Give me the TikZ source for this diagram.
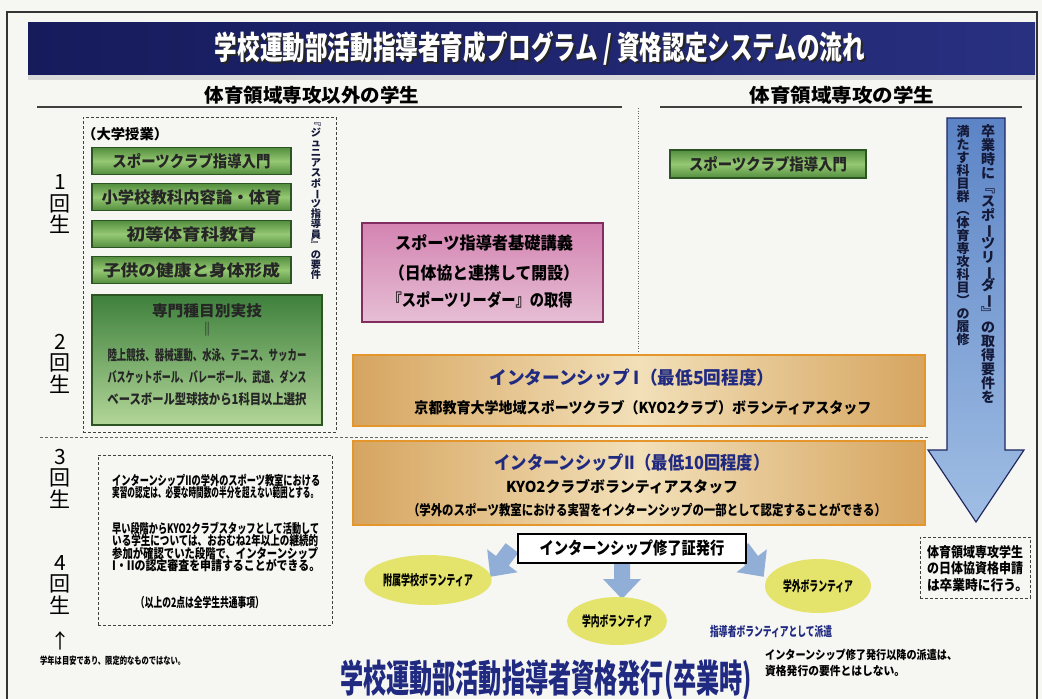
\documentclass[tikz,border=0pt]{standalone}
\usepackage{fontspec}
\usepackage{graphicx}
\newfontfamily\jp{Noto Sans CJK JP}
\usetikzlibrary{shapes.geometric}
\newcommand\fw[2]{\resizebox{#1}{\height}{#2}}
\newcommand\jb[1]{\jp\bfseries\fontsize{#1}{#1}\selectfont}
\newcommand\jr[1]{\jp\fontsize{#1}{#1}\selectfont}
\newcommand\vsk[1]{\lineskiplimit=-100pt\lineskip=0pt\baselineskip=#1pt\relax}
\newcommand\vbar{\rotatebox[origin=c]{-90}{ー}}
\newcommand\barrow[2]{\begin{scope}[shift={#1},rotate=#2]\fill[sarr] (-8,0) -- (8,0) -- (8,16) -- (19,16) -- (0,36) -- (-19,16) -- (-8,16) -- cycle;\end{scope}}
\definecolor{bg}{RGB}{246,246,243}
\definecolor{navy}{RGB}{22,27,92}
\definecolor{navyL}{RGB}{40,48,128}
\definecolor{txtnavy}{RGB}{32,42,128}
\definecolor{grnB}{RGB}{45,85,35}
\definecolor{grnD}{RGB}{82,142,62}
\definecolor{grnL}{RGB}{150,200,115}
\definecolor{grnT}{RGB}{62,128,60}
\definecolor{grnBot}{RGB}{178,214,152}
\definecolor{pinkB}{RGB}{130,45,95}
\definecolor{pinkT}{RGB}{212,132,178}
\definecolor{pinkBot}{RGB}{230,190,212}
\definecolor{orB}{RGB}{228,150,45}
\definecolor{tanD}{RGB}{214,165,96}
\definecolor{tanL}{RGB}{242,224,185}
\definecolor{bluB}{RGB}{30,40,95}
\definecolor{bluT}{RGB}{92,132,198}
\definecolor{bluBot}{RGB}{160,190,228}
\definecolor{bluA}{RGB}{110,150,205}
\definecolor{ylw}{RGB}{228,228,108}
\definecolor{vtxt}{RGB}{20,25,55}
\begin{document}
\begin{tikzpicture}[x=1pt,y=-1pt,
 dbox/.style={draw=black!75, line width=0.8pt, dash pattern=on 3pt off 2pt, inner sep=0pt},
 gbox/.style={draw=grnB, line width=1.2pt, top color=grnD, bottom color=grnD, middle color=grnL, minimum width=199pt, minimum height=27pt, inner sep=0pt, font=\jb{16}, text=black!85},
 bigg/.style={draw=grnB, line width=1.2pt, top color=grnT, bottom color=grnBot, minimum width=230pt, minimum height=130pt, inner sep=0pt},
 pbox/.style={draw=pinkB, line width=1.2pt, top color=pinkT, bottom color=pinkBot, minimum width=241pt, minimum height=99pt, inner sep=0pt},
 ibox/.style={draw=orB, line width=1.5pt, left color=tanD, right color=tanD, middle color=tanL, minimum width=572pt, inner sep=0pt},
 oval/.style={ellipse, fill=ylw, inner sep=0pt, font=\jb{14}},
 lbl/.style={inner sep=0pt},
 gtx/.style={inner sep=0pt, font=\jb{14}, text=black!85},
 ntx/.style={inner sep=0pt, font=\jb{13}, anchor=west},
 yr/.style={inner sep=0pt, font={\jr{21}\vsk{21.5}}, align=center},
 sarr/.style={fill=bluA, opacity=0.75},
]
\path[use as bounding box] (0,0) rectangle (1042,699);
\fill[bg] (0,0) rectangle (1042,699);
\draw[black!80, line width=1.2pt] (7,699) -- (7,12) -- (1037,12) -- (1037,699);
% title
\fill[black!15] (28,74) rectangle (1035,80);
\node[lbl, left color=navy, right color=navyL, minimum width=1007pt, minimum height=52pt] (title) at (531.5,48) {};
\node[lbl, font=\jb{32}, text=black!85] (tshadow) at (542,50) {\fw{650pt}{学校運動部活動指導者育成プログラム\ /\ 資格認定システムの流れ}};
\node[lbl, font=\jb{32}, text=white] (ttext) at (540,48) {\fw{650pt}{学校運動部活動指導者育成プログラム\ /\ 資格認定システムの流れ}};
% sub headers
\node[lbl, font=\jb{19}] (h1) at (312,95) {\fw{215pt}{体育領域専攻以外の学生}};
\draw[black!75, line width=1.5pt] (37,107) -- (622,107);
\node[lbl, font=\jb{19}] (h2) at (842,95) {\fw{185pt}{体育領域専攻の学生}};
\draw[black!75, line width=1.5pt] (660,107) -- (1022,107);
% separators
\draw[black!60, dash pattern=on 1pt off 1.5pt, line width=0.8pt] (638,108) -- (638,352);
\draw[black!60, dash pattern=on 3pt off 2pt, line width=0.8pt] (40,437) -- (930,437);
% year labels
\node[yr] (y1) at (60,204.5) {1\\回\\生};
\node[yr] (y2) at (60,363.5) {2\\回\\生};
\node[yr] (y3) at (60,478.5) {3\\回\\生};
\node[yr] (y4) at (60,585) {4\\回\\生};
\node[lbl, font=\jr{20}] (up) at (60,641) {↑};
\node[lbl, font=\jb{10}, anchor=west] (yrnote) at (40,661) {\fw{145pt}{学年は目安であり、限定的なものではない。}};
% left dashed box with courses
\node[dbox, minimum width=253pt, minimum height=315pt] (lbox) at (209.5,274.5) {};
\node[lbl, font=\jb{14}, anchor=west] (univ) at (82,134) {\fw{86pt}{（大学授業）}};
\node[gbox] (g1) at (191.5,161) {\fw{158pt}{スポーツクラブ指導入門}};
\node[gbox] (g2) at (191.5,197) {\fw{180pt}{小学校教科内容論・体育}};
\node[gbox] (g3) at (191.5,234) {\fw{130pt}{初等体育科教育}};
\node[gbox] (g4) at (191.5,270) {\fw{177pt}{子供の健康と身体形成}};
\node[bigg] (g5) at (207,360) {};
\node[gtx, font=\jb{15}] (g5a) at (207,311) {\fw{110pt}{専門種目別実技}};
\node[gtx] (g5b) at (207,329) {‖};
\node[gtx] (g5c) at (207,355) {\fw{199pt}{陸上競技、器械運動、水泳、テニス、サッカー}};
\node[gtx] (g5d) at (207,377) {\fw{199pt}{バスケットボール、バレーボール、武道、ダンス}};
\node[gtx] (g5e) at (207,399) {\fw{199pt}{ベースボール型球技から1科目以上選択}};
\node[lbl, align=center, text=vtxt, font={\jb{10.2}\vsk{10.2}}] (jr) at (316,201.5) {﹃\\ジ\\ュ\\ニ\\ア\\ス\\ポ\\\vbar\\ツ\\指\\導\\員\\﹄\\の\\要\\件};
% pink box
\node[pbox] (pink) at (482.5,272.5) {};
\node[lbl, font=\jb{17}] (p1) at (484,243) {\fw{178pt}{スポーツ指導者基礎講義}};
\node[lbl, font=\jb{17}] (p2) at (484,273) {\fw{190pt}{（日体協と連携して開設）}};
\node[lbl, font=\jb{17}] (p3) at (480,300) {\fw{185pt}{『スポーツリーダー』の取得}};
% internship I
\node[ibox, minimum height=71pt] (i1) at (639,390.5) {};
\node[lbl, font=\jb{18}, text=txtnavy] (i1t) at (632,378) {\fw{285pt}{インターンシップ I（最低5回程度）}};
\node[lbl, font=\jb{15}] (i1s) at (643,408) {\fw{457pt}{京都教育大学地域スポーツクラブ（KYO2クラブ）ボランティアスタッフ}};
% internship II
\node[ibox, minimum height=84pt] (i2) at (639,483) {};
\node[lbl, font=\jb{18}, text=txtnavy] (i2t) at (632,463) {\fw{275pt}{インターンシップII（最低10回程度）}};
\node[lbl, font=\jb{15}] (i2a) at (622,487) {\fw{232pt}{KYO2クラブボランティアスタッフ}};
\node[lbl, font=\jb{14}] (i2b) at (647,510) {\fw{478pt}{（学外のスポーツ教室における実習をインターンシップの一部として認定することができる）}};
% right column
\node[gbox, minimum width=196pt, minimum height=28pt] (rg) at (768,164) {\fw{158pt}{スポーツクラブ指導入門}};
\coordinate (atop) at (976,118);
\coordinate (atip) at (976,522);
\draw[draw=bluB, line width=1.2pt, top color=bluT, bottom color=bluBot] (947,118) -- (1005,118) -- (1005,450) -- (1024,450) -- (atip) -- (928,450) -- (947,450) -- cycle;
\node[lbl, align=center, text=vtxt, font={\jb{14}\vsk{14}}] (av1) at (988,264) {卒\\業\\時\\に\\﹃\\ス\\ポ\\\vbar\\ツ\\リ\\\vbar\\ダ\\\vbar\\﹄\\の\\取\\得\\要\\件\\を};
\node[lbl, align=center, text=vtxt, font={\jb{13}\vsk{13}}] (av2) at (963,235.5) {満\\た\\す\\科\\目\\群\\︵\\体\\育\\専\\攻\\科\\目\\︶\\の\\履\\修};
\node[dbox, minimum width=110pt, minimum height=61pt] (rb) at (975,567.5) {};
\node[lbl, font=\jb{14}] (rb1) at (975,552) {\fw{96pt}{体育領域専攻学生}};
\node[lbl, font=\jb{14}] (rb2) at (975,568) {\fw{96pt}{の日体協資格申請}};
\node[lbl, font=\jb{14}] (rb3) at (977.5,585) {\fw{101pt}{は卒業時に行う。}};
% left bottom notes
\node[dbox, minimum width=234pt, minimum height=170pt] (nb) at (215,540) {};
\node[ntx] (n1) at (112,480) {\fw{208pt}{インターンシップIIの学外のスポーツ教室における}};
\node[ntx] (n2) at (112,493) {\fw{206pt}{実習の認定は、必要な時間数の半分を超えない範囲とする。}};
\node[ntx] (n3) at (112,528) {\fw{207pt}{早い段階からKYO2クラブスタッフとして活動して}};
\node[ntx] (n4) at (112,540.5) {\fw{206pt}{いる学生については、おおむね2年以上の継続的}};
\node[ntx] (n5) at (112,553) {\fw{206pt}{参加が確認でいた段階で、インターンシップ}};
\node[ntx] (n6) at (112,565.5) {\fw{208pt}{I・IIの認定審査を申請することができる。}};
\node[lbl, font=\jb{13}] (n7) at (200,603) {\fw{128pt}{（以上の2点は全学生共通事項）}};
% certificate and volunteers
\barrow{(512,548)}{-37}
\barrow{(622,563)}{0}
\barrow{(742,548)}{37}
\node[draw=black, line width=2pt, fill=white, minimum width=228pt, minimum height=29pt, inner sep=0pt, font=\jb{17}] (cert) at (632,548.5) {\fw{185pt}{インターンシップ修了証発行}};
\node[oval, minimum width=106pt, minimum height=50pt] (e1) at (428,580) {\fw{90pt}{附属学校ボランティア}};
\node[oval, minimum width=100pt, minimum height=48pt] (e2) at (617,621) {\fw{70pt}{学内ボランティア}};
\node[oval, minimum width=106pt, minimum height=54pt] (e3) at (818,586) {\fw{70pt}{学外ボランティア}};
\node[lbl, font=\jb{13}, text=txtnavy, anchor=west] (disp) at (710,632) {\fw{122pt}{指導者ボランティアとして派遣}};
\node[lbl, font=\jb{12}, anchor=west] (note1) at (765,655) {\fw{192pt}{インターンシップ修了発行以降の派遣は、}};
\node[lbl, font=\jb{12}, anchor=west] (note2) at (765,671) {\fw{140pt}{資格発行の要件とはしない。}};
\node[lbl, font=\jb{38}, text=txtnavy] (final) at (546,680) {\fw{412pt}{学校運動部活動指導者資格発行(卒業時)}};
\end{tikzpicture}
\end{document}
